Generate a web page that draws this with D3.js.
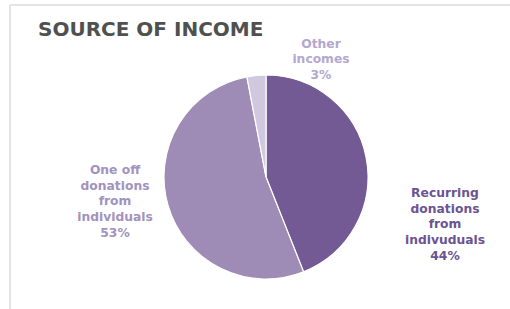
<!DOCTYPE html>
<html>
<head>
<meta charset="utf-8">
<script src="https://cdn.jsdelivr.net/npm/d3@7"></script>
<style>
  body { margin: 0; background: #fff; }
  svg { display: block; }
  text { font-family: "DejaVu Sans", Verdana, sans-serif; font-weight: bold; }
</style>
</head>
<body>
<div id="chart"></div>
<script>
/* Data */
var categories = ["Recurring donations from indivuduals", "One off donations from individuals", "Other incomes"];
var values = [44, 53, 3];
var labelLines = [
  ["Recurring", "donations", "from", "indivuduals", "44%"],
  ["One off", "donations", "from", "individuals", "53%"],
  ["Other", "incomes", "3%"]
];

var width = 510, height = 309;
var cx = 266, cy = 177, radius = 102;

var colors = ["#735a95", "#9e8bb6", "#d0c8de"];
var labelColors = ["#6c5394", "#a292c0", "#b4a7cf"];
// label block centers (layout)
var labelAt = [[445, 224], [115, 201], [321, 59]];

var svg = d3.select("#chart").append("svg")
  .attr("width", width).attr("height", height);

// frame
svg.append("line").attr("x1", 10).attr("y1", 5).attr("x2", 10).attr("y2", height)
  .attr("stroke", "#e4e4e4").attr("stroke-width", 2);
svg.append("line").attr("x1", 10).attr("y1", 5).attr("x2", width).attr("y2", 5)
  .attr("stroke", "#e4e4e4").attr("stroke-width", 2);

svg.append("text")
  .attr("x", 38).attr("y", 36)
  .attr("font-size", 20)
  .attr("fill", "#505050")
  .text("SOURCE OF INCOME");

var data = categories.map(function(c, i) { return {label: c, value: values[i], i: i}; });

var pie = d3.pie().sort(null).value(function(d) { return d.value; });
var arc = d3.arc().innerRadius(0).outerRadius(radius);

var g = svg.append("g").attr("transform", "translate(" + cx + "," + cy + ")");

g.selectAll("path.slice")
  .data(pie(data))
  .enter().append("path")
  .attr("class", "slice")
  .attr("d", arc)
  .attr("fill", function(d) { return colors[d.data.i]; })
  .attr("stroke", "#ffffff")
  .attr("stroke-width", 1.2);

var lineH = 15.6;
data.forEach(function(d) {
  var lines = labelLines[d.i];
  var pos = labelAt[d.i];
  var top = pos[1] - (lines.length - 1) * lineH / 2;
  var t = svg.append("text")
    .attr("text-anchor", "middle")
    .attr("font-size", 12.3)
    .attr("fill", labelColors[d.i]);
  lines.forEach(function(s, k) {
    t.append("tspan").attr("x", pos[0]).attr("y", top + k * lineH).attr("dy", "0.35em").text(s);
  });
});
</script>
</body>
</html>
